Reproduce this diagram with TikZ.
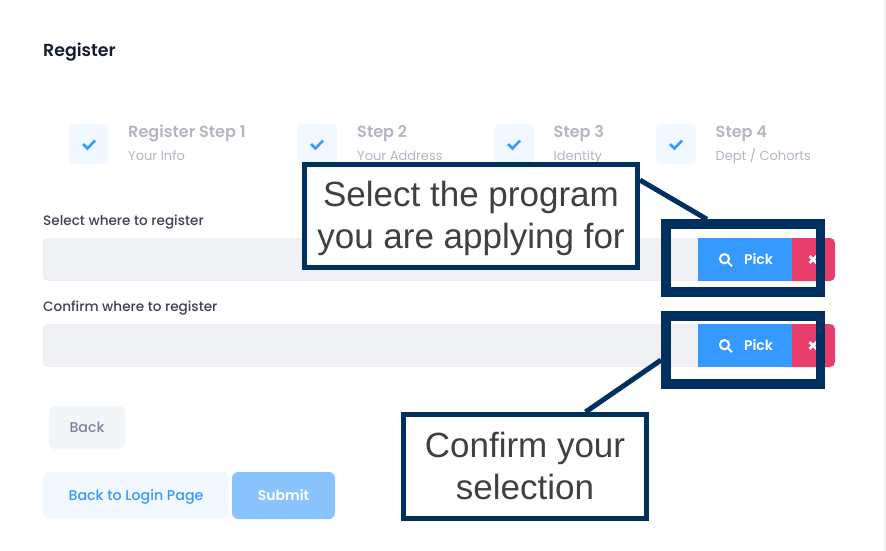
\documentclass[tikz,border=0pt]{standalone}
\usepackage{fontspec}
\setmainfont{Poppins}[BoldFont={Poppins SemiBold}]
\newfontfamily\mediumfont{Poppins Medium}
\newfontfamily\notefont{Liberation Sans}
\usetikzlibrary{positioning}
\definecolor{navy}{HTML}{00305F}
\definecolor{notegrey}{HTML}{404040}
\definecolor{mutedgrey}{HTML}{B5B5C3}
\definecolor{labelgrey}{HTML}{3F4254}
\definecolor{headgrey}{HTML}{181C32}
\definecolor{backgrey}{HTML}{7E8299}
\definecolor{backfill}{HTML}{F3F6F9}
\definecolor{lightblue}{HTML}{F1F8FF}
\definecolor{pickblue}{HTML}{3699FF}
\definecolor{softblue}{HTML}{8AC4FF}
\definecolor{clearred}{HTML}{E83E6C}
\definecolor{fieldgrey}{HTML}{EEF0F4}
\definecolor{fieldline}{HTML}{E0E3EA}
\tikzstyle{stepbox} = [rectangle, rounded corners=5pt, minimum width=40pt, minimum height=40pt, inner sep=0pt, fill=lightblue,
  path picture={\draw[sharp corners, pickblue, line width=2.5pt] ([shift={(-6,0)}]path picture bounding box.center) -- ++(4.5,4.5) -- ++(7.5,-8);}]
\tikzstyle{steptitle} = [anchor=base west, inner sep=0pt, text=mutedgrey, font=\fontsize{16.1}{19}\selectfont\bfseries]
\tikzstyle{stepnote} = [anchor=base west, inner sep=0pt, text=mutedgrey, font=\fontsize{13}{16}\selectfont]
\tikzstyle{fieldlabel} = [anchor=base west, inner sep=0pt, text=labelgrey, font=\mediumfont\fontsize{13.6}{16}\selectfont]
\tikzstyle{fieldbox} = [rectangle, rounded corners=5pt, minimum width=670pt, minimum height=42pt, inner sep=0pt, fill=fieldgrey, draw=fieldline]
\tikzstyle{clearbtn} = [rectangle, rounded corners=5pt, minimum width=55pt, minimum height=43pt, inner sep=0pt, fill=clearred,
  path picture={\draw[sharp corners, white, line width=2.6pt] ([shift={(2,-3.5)}]path picture bounding box.center) -- ++(7,7) ++(0,-7) -- ++(-7,7);}]
\tikzstyle{pickbtn} = [rectangle, minimum width=94pt, minimum height=43pt, inner sep=0pt, fill=pickblue, text=white, font=\fontsize{14}{17}\selectfont\bfseries,
  path picture={\draw[white, line width=2pt] ([shift={(-20.5,-0.8)}]path picture bounding box.center) circle (4.6pt) ++(3.4,3.4) -- ++(4,4);}]
\tikzstyle{plainbtn} = [rectangle, rounded corners=6pt, inner sep=0pt, text height=12pt, text depth=3pt, font=\mediumfont\fontsize{14.2}{17}\selectfont]
\tikzstyle{marker} = [rectangle, minimum width=154.5pt, minimum height=68pt, inner sep=0pt, draw=navy, line width=9.5pt]
\tikzstyle{callout} = [rectangle, inner sep=0pt, align=center, draw=navy, fill=white, line width=5pt, text=notegrey, font=\notefont\fontsize{35}{42}\selectfont]
\tikzstyle{arrow} = [navy, line width=5pt]

\begin{document}
\begin{tikzpicture}[x=1pt, y=-1pt]
    \useasboundingbox [fill=white] (0,0) rectangle (886,551);
    \fill [black!6] (884,0) rectangle (886,551);

    \node (title) [anchor=base west, inner sep=0pt, text=headgrey, font=\fontsize{17.4}{20}\selectfont\bfseries] at (43,57) {Register};

    \node (step1) [stepbox] at (89,144) {};
    \node (step2) [stepbox] at (317,144) {};
    \node (step3) [stepbox] at (514,144) {};
    \node (step4) [stepbox] at (676,144) {};
    \node (step1title) [steptitle] at (128,137) {Register Step 1};
    \node (step2title) [steptitle] at (357,137) {Step 2};
    \node (step3title) [steptitle] at (553.5,137) {Step 3};
    \node (step4title) [steptitle] at (715.5,137) {Step 4};
    \node (step1note) [stepnote] at (128,160) {Your Info};
    \node (step2note) [stepnote] at (357,160) {Your Address};
    \node (step3note) [stepnote] at (553.5,160) {Identity};
    \node (step4note) [stepnote] at (715.5,160) {Dept / Cohorts};

    \node (selectlabel) [fieldlabel] at (43,225) {Select where to register};
    \node (selectfield) [fieldbox] at (378,259.5) {};
    \node (selectclear) [clearbtn] at (807.5,259.5) {};
    \node (selectpick) [pickbtn] at (745,259.5) {\hspace{27pt}Pick};

    \node (confirmlabel) [fieldlabel] at (43,311) {Confirm where to register};
    \node (confirmfield) [fieldbox] at (378,345.5) {};
    \node (confirmclear) [clearbtn] at (807.5,345.5) {};
    \node (confirmpick) [pickbtn] at (745,345.5) {\hspace{27pt}Pick};

    \node (back) [plainbtn, minimum width=76pt, minimum height=43pt, fill=backfill, text=backgrey] at (87,427.5) {Back};
    \node (login) [plainbtn, minimum width=186pt, minimum height=47pt, fill=lightblue, text=pickblue] at (136,495.5) {Back to Login Page};
    \node (submit) [plainbtn, minimum width=103pt, minimum height=47pt, fill=softblue, text=white, font=\fontsize{14}{17}\selectfont\bfseries] at (283.5,495.5) {Submit};

    \node (selectmark) [marker] at (743,258) {};
    \node (confirmmark) [marker] at (743,350) {};
    \node (selectnote) [callout, minimum width=333pt, minimum height=103pt] at (471,216) {\rule{0pt}{30pt}Select the program\\you are applying for};
    \node (confirmnote) [callout, minimum width=243pt, minimum height=104pt] at (525,466.5) {Confirm your\\selection\rule[-2pt]{0pt}{2pt}};

    \draw [arrow] (selectnote.12) -- (selectmark.133);
    \draw [arrow] (confirmnote.42) -- (confirmmark.187);
\end{tikzpicture}
\end{document}
